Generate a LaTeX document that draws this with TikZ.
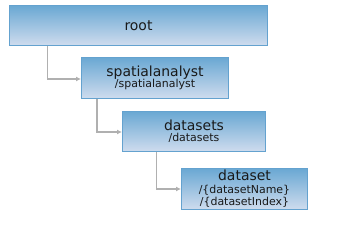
\documentclass[tikz,border=0pt]{standalone}
\usepackage{fontspec}
\setmainfont{DejaVu Sans}
\usetikzlibrary{arrows.meta}
\definecolor{boxtop}{HTML}{6AA8D3}
\definecolor{boxbot}{HTML}{CFDCEE}
\definecolor{boxline}{HTML}{64A2CF}
\definecolor{conn}{HTML}{B0B0B0}
\tikzset{
  box/.style={draw=boxline, line width=1bp, top color=boxtop, bottom color=boxbot, inner sep=0pt, align=center, text=black!90},
  link/.style={draw=conn, line width=1.6bp, -{Latex[length=5bp,width=5bp]}},
}
\newcommand{\smalltxt}{\fontsize{11}{12.5}\selectfont}
\begin{document}
\begin{tikzpicture}[x=1bp,y=-1bp]
\useasboundingbox (0,0) rectangle (344,240);
\fill[white] (0,0) rectangle (344,240);
\node[box, minimum width=258bp, minimum height=40bp, anchor=north west, font=\fontsize{14}{15}\selectfont] (root) at (9,5) {root};
\node[box, minimum width=147bp, minimum height=41bp, anchor=north west] (sa) at (81,57) {{\fontsize{14}{15}\selectfont spatialanalyst}\\[-1bp]{\smalltxt /spatialanalyst}};
\node[box, minimum width=143bp, minimum height=40bp, anchor=north west] (ds) at (122,111) {{\fontsize{14}{15}\selectfont datasets}\\[-1bp]{\smalltxt /datasets}};
\node[box, minimum width=126bp, minimum height=41bp, anchor=north west, font=\smalltxt] (d) at (181,168) {{\fontsize{14}{14}\selectfont dataset}\\/\{datasetName\}\\/\{datasetIndex\}};
\coordinate (c1) at (47.5,79);
\coordinate (c2) at (97,132);
\coordinate (c3) at (156.5,189);
\draw[link] (root.south west -| c1) -- (c1) -- (c1 -| sa.west);
\draw[link] (sa.south west -| c2) -- (c2) -- (c2 -| ds.west);
\draw[link] (ds.south west -| c3) -- (c3) -- (c3 -| d.west);
\end{tikzpicture}
\end{document}
